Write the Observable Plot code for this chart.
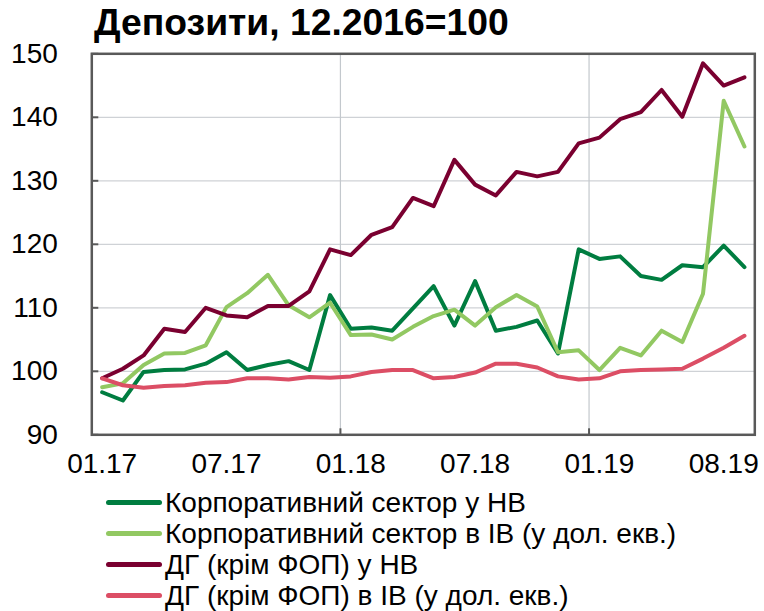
<!DOCTYPE html>
<html>
<head>
<meta charset="utf-8">
<script src="https://cdn.jsdelivr.net/npm/d3@7"></script>
<script src="https://cdn.jsdelivr.net/npm/@observablehq/plot@0.6"></script>
<style>
  html, body { margin: 0; padding: 0; background: #fff; }
  #wrap { position: relative; width: 764px; height: 611px; overflow: hidden; font-family: "Liberation Sans", Arial, sans-serif; }
  #title { position: absolute; left: 94px; top: 3.7px; font-weight: bold; font-size: 37.3px; line-height: 37px; color: #000; white-space: nowrap; }
  #chart { position: absolute; left: 0; top: 0; }
  #legend { position: absolute; left: 106px; top: 486.5px; }
  .row { display: flex; align-items: center; height: 31.1px; }
  .sw { width: 56px; height: 5px; border-radius: 2.5px; margin-right: 3px; }
  .lbl { font-size: 28px; line-height: 31px; color: #000; white-space: nowrap; }
</style>
</head>
<body>
<div id="wrap">
  <div id="chart"></div>
  <div id="title">Депозити, 12.2016=100</div>
  <div id="legend"></div>
</div>
<script>
const months = ["01.17","02.17","03.17","04.17","05.17","06.17","07.17","08.17","09.17","10.17","11.17","12.17",
                "01.18","02.18","03.18","04.18","05.18","06.18","07.18","08.18","09.18","10.18","11.18","12.18",
                "01.19","02.19","03.19","04.19","05.19","06.19","07.19","08.19"];
const tickIdx = [0, 6, 12, 18, 24, 30];
const tickLabels = ["01.17","07.17","01.18","07.18","01.19","08.19"];
const yTicks = [90, 100, 110, 120, 130, 140, 150];
const gridY = [100, 110, 120, 130, 140];
const gridX = [11.5, 23.5];

const seriesNames = [
  "Корпоративний сектор у НВ",
  "Корпоративний сектор в ІВ (у дол. екв.)",
  "ДГ (крім ФОП) у НВ",
  "ДГ (крім ФОП) в ІВ (у дол. екв.)"
];
const seriesColors = ["#007d40", "#92c862", "#7a0030", "#dc4e65"];

const corpNV = [96.7,95.4,99.9,100.2,100.3,101.2,103.0,100.2,101.0,101.6,100.2,112.0,106.7,106.9,106.4,109.9,113.4,107.2,114.2,106.4,107.0,108.0,102.8,119.2,117.7,118.1,115.0,114.4,116.7,116.4,119.8,116.4];
const corpIV = [97.5,98.1,101.0,102.8,102.9,104.1,110.1,112.3,115.2,110.4,108.5,110.8,105.7,105.8,105.0,107.0,108.7,109.7,107.2,110.1,112.0,110.2,103.0,103.3,100.2,103.7,102.5,106.4,104.6,112.2,142.6,135.4];
const hhNV = [98.9,100.4,102.5,106.7,106.2,110.0,108.8,108.5,110.3,110.3,112.6,119.2,118.3,121.5,122.7,127.3,126.0,133.3,129.4,127.7,131.4,130.7,131.4,135.9,136.8,139.7,140.8,144.3,140.1,148.5,145.0,146.3];
const hhIV = [98.9,97.8,97.4,97.7,97.8,98.2,98.3,98.9,98.9,98.7,99.1,99.0,99.2,99.9,100.2,100.2,98.9,99.1,99.8,101.2,101.2,100.6,99.2,98.7,98.9,100.0,100.2,100.3,100.4,102.0,103.7,105.6];

const allSeries = [corpNV, corpIV, hhNV, hhIV];

const W = 764, H = 480;
const mL = 91.3, mR = 9.7, mT = 53.3, mB = 45.7;
const plotW = W - mL - mR, plotH = H - mT - mB;

const lineMarks = allSeries.map((s, j) =>
  Plot.line(s.map((v, i) => ({i, v, m: months[i]})), {
    x: "i", y: "v", stroke: seriesColors[j], strokeWidth: 4,
    strokeLinejoin: "round", strokeLinecap: "round"
  })
);

const chart = Plot.plot({
  width: W, height: H,
  marginLeft: mL, marginRight: mR, marginTop: mT, marginBottom: mB,
  style: { fontFamily: "Liberation Sans, Arial, sans-serif", fontSize: "28px", color: "#000", background: "transparent", overflow: "visible" },
  x: {
    type: "linear", domain: [-0.5, months.length - 0.5],
    ticks: tickIdx, tickFormat: d => tickLabels[tickIdx.indexOf(d)],
    tickSize: 0, tickPadding: 18, label: null
  },
  y: {
    domain: [90, 150], ticks: yTicks, tickSize: 0, tickPadding: 34, label: null
  },
  marks: [
    Plot.ruleY(gridY, { stroke: "#cfd2d6", strokeWidth: 1.2 }),
    Plot.ruleX(gridX, { stroke: "#c3c8cd", strokeWidth: 1.2 }),
    ...lineMarks,
    Plot.tickY(yTicks, { y: d => d, stroke: "#595959", strokeWidth: 2, insetRight: plotW - 7 }),
    Plot.tickX(gridX, { x: d => d, stroke: "#595959", strokeWidth: 2, insetTop: plotH - 6 }),
    Plot.frame({ stroke: "#595959", strokeWidth: 2.5 })
  ]
});
document.getElementById("chart").appendChild(chart);

const legend = document.getElementById("legend");
seriesNames.forEach((name, j) => {
  const row = document.createElement("div");
  row.className = "row";
  const sw = document.createElement("div");
  sw.className = "sw";
  sw.style.background = seriesColors[j];
  const lb = document.createElement("div");
  lb.className = "lbl";
  lb.textContent = name;
  row.appendChild(sw); row.appendChild(lb);
  legend.appendChild(row);
});
</script>
</body>
</html>
